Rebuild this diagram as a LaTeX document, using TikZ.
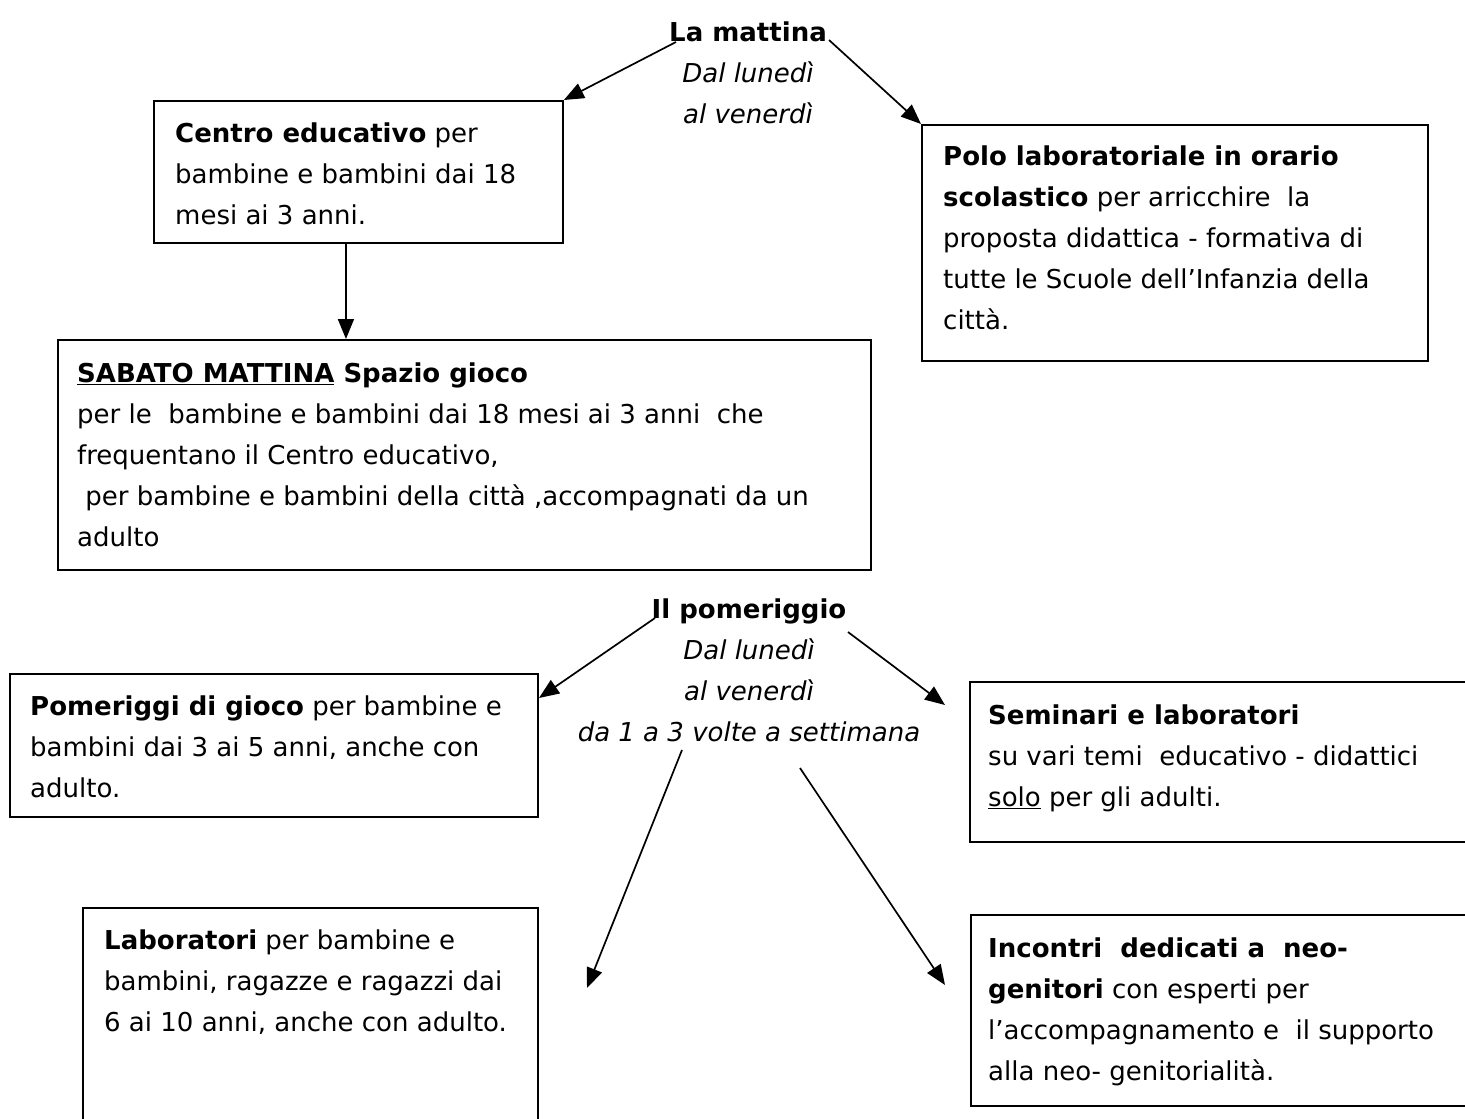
\documentclass[tikz,border=0pt]{standalone}
\usepackage{fontspec}
\setmainfont{DejaVu Sans}
\usetikzlibrary{arrows.meta}
\begin{document}
\begin{tikzpicture}[x=1pt,y=-1pt,
  box/.style={draw,line width=1.9pt,inner sep=0pt,anchor=north west},
  txt/.style={anchor=north west,inner sep=0pt,align=left,font=\fontsize{26}{41}\selectfont},
  ttl/.style={anchor=north,inner sep=0pt,align=center,font=\fontsize{26}{41}\selectfont},
  arr/.style={line width=1.7pt,-{Triangle[length=20pt,width=16pt]}}]
\useasboundingbox (0,0) rectangle (1465,1119);
\clip (0,0) rectangle (1465,1119);
\fill[white] (0,0) rectangle (1465,1119);

% titles
\node[ttl] (mattina) at (748,12.3) {\strut\textbf{La mattina}\\\textit{Dal lunedì}\\\textit{al venerdì}};
\node[ttl] (pomeriggio) at (749,589.3) {\strut\textbf{Il pomeriggio}\\\textit{Dal lunedì}\\\textit{al venerdì}\\\textit{da 1 a 3 volte a settimana}};

% boxes
\node[box,minimum width=409pt,minimum height=142pt] (centro) at (153,100) {};
\node[box,minimum width=813pt,minimum height=230pt] (sabato) at (57,339) {};
\node[box,minimum width=506pt,minimum height=236pt] (polo) at (921,124) {};
\node[box,minimum width=528pt,minimum height=143pt] (pomeriggi) at (9,673) {};
\node[box,minimum width=520pt,minimum height=160pt] (seminari) at (969,681) {};
\node[box,minimum width=455pt,minimum height=260pt] (laboratori) at (82,907) {};
\node[box,minimum width=520pt,minimum height=191pt] (incontri) at (970,914) {};

% texts
\node[txt] (centrot) at (175,113.3) {\strut\textbf{Centro educativo} per\\bambine e bambini dai 18\\mesi ai 3 anni.};
\node[txt] (sabatot) at (77,353.3) {\strut\textbf{\underline{SABATO MATTINA} Spazio gioco}\\per le\ \ bambine e bambini dai 18 mesi ai 3 anni\ \ che\\frequentano il Centro educativo,\\\ per bambine e bambini della città ,accompagnati da un\\adulto};
\node[txt] (polot) at (943,136.3) {\strut\textbf{Polo laboratoriale in orario}\\\textbf{scolastico} per arricchire\ \ la\\proposta didattica - formativa di\\tutte le Scuole dell’Infanzia della\\città.};
\node[txt] (pomeriggit) at (30,686.3) {\strut\textbf{Pomeriggi di gioco} per bambine e\\bambini dai 3 ai 5 anni, anche con\\adulto.};
\node[txt] (seminarit) at (988,695.3) {\strut\textbf{Seminari e laboratori}\\su vari temi\ \ educativo - didattici\\\underline{solo} per gli adulti.};
\node[txt] (laboratorit) at (104,920.3) {\strut\textbf{Laboratori} per bambine e\\bambini, ragazze e ragazzi dai\\6 ai 10 anni, anche con adulto.};
\node[txt] (incontrit) at (988,928.3) {\strut\textbf{Incontri\ \ dedicati a\ \ neo-}\\\textbf{genitori} con esperti per\\l’accompagnamento e\ \ il supporto\\alla neo- genitorialità.};

% connector ends
\coordinate (ma1) at (676,42);
\coordinate (ma2) at (829,40);
\coordinate (po1) at (655,618);
\coordinate (po2) at (848,632);
\coordinate (po3) at (682,750);
\coordinate (po4) at (800,768);
\coordinate (pe1) at (539,698);
\coordinate (pe2) at (945,705);
\coordinate (pe3) at (587,988);
\coordinate (pe4) at (945,985);

\draw[arr] (ma1) -- (centro.north east);
\draw[arr] (ma2) -- (polo.north west);
\draw[arr] ([xshift=-12.5pt]centro.south) -- ([xshift=-12.5pt]centro.south |- sabato.north);
\draw[arr] (po1) -- (pe1);
\draw[arr] (po2) -- (pe2);
\draw[arr] (po3) -- (pe3);
\draw[arr] (po4) -- (pe4);
\end{tikzpicture}
\end{document}
